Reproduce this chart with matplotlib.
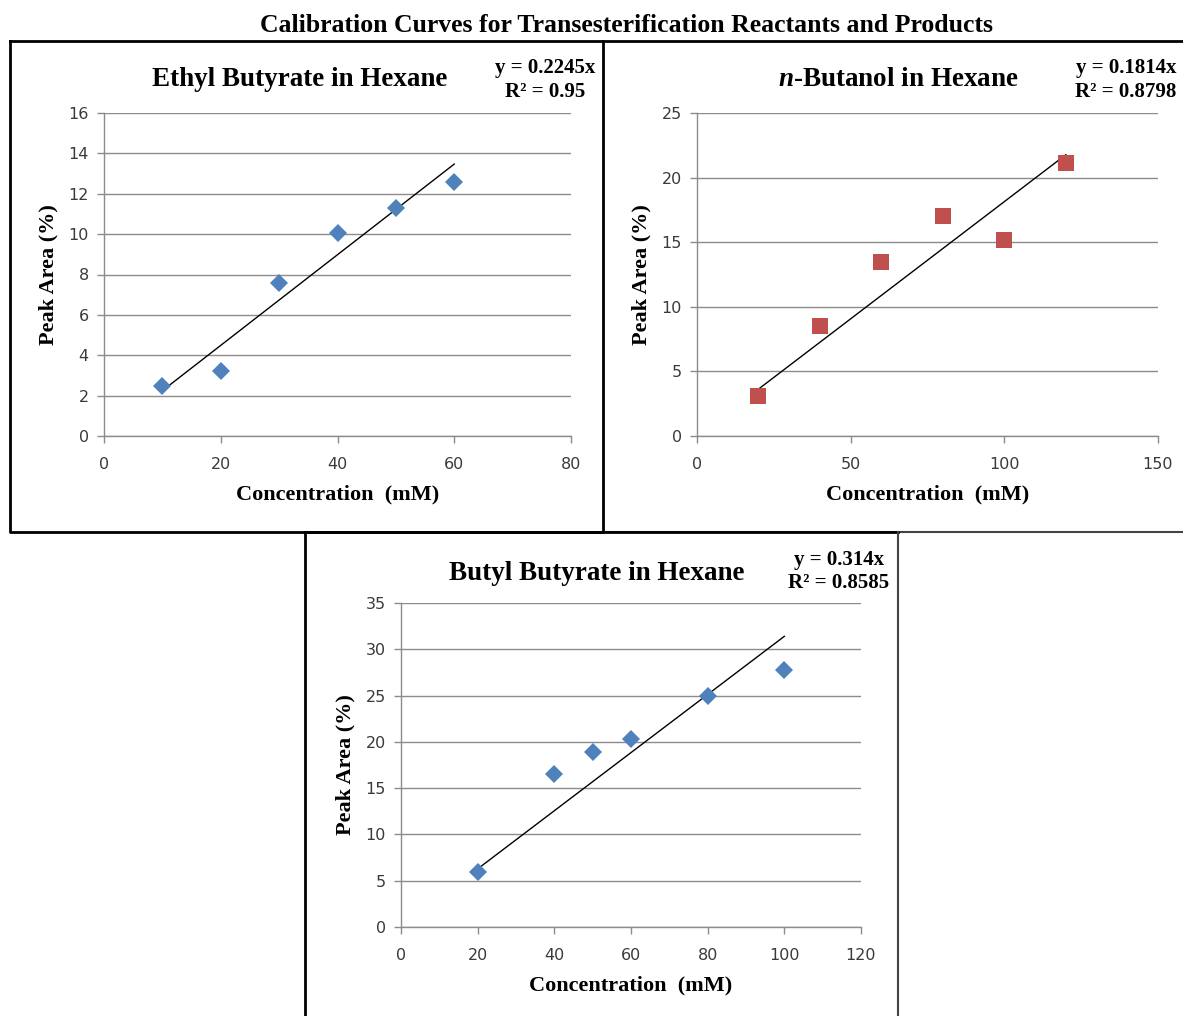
import matplotlib
matplotlib.use("Agg")
import matplotlib.pyplot as plt
from matplotlib.lines import Line2D
import numpy as np

W, H = 1183, 1016

# Ethyl butyrate standards
ethyl_conc = [10, 20, 30, 40, 50, 60]
ethyl_area = [2.5, 3.2, 7.6, 10.05, 11.3, 12.6]
ethyl_slope = 0.2245
ethyl_r2 = "0.95"

# n-Butanol standards
butanol_conc = [20, 40, 60, 80, 100, 120]
butanol_area = [3.1, 8.5, 13.5, 17.0, 15.2, 21.1]
butanol_slope = 0.1814
butanol_r2 = "0.8798"

# Butyl butyrate standards
butyl_conc = [20, 40, 50, 60, 80, 100]
butyl_area = [5.9, 16.5, 18.9, 20.3, 24.9, 27.8]
butyl_slope = 0.314
butyl_r2 = "0.8585"

SERIF = "Liberation Serif"
SANS = "DejaVu Sans"
BLUE = "#4F81BD"
RED = "#C0504D"
GRID = "#8C8C8C"

plt.rcParams["mathtext.fontset"] = "custom"
plt.rcParams["mathtext.it"] = "Liberation Serif:italic:bold"
plt.rcParams["mathtext.rm"] = "Liberation Serif:bold"

fig = plt.figure(figsize=(W / 100, H / 100), dpi=100)
fig.patch.set_facecolor("white")


def px_axes(left, top, right, bottom):
    return fig.add_axes([left / W, 1 - bottom / H, (right - left) / W, (bottom - top) / H])


def px_line(xs, ys, lw=2.0, color="black"):
    fig.add_artist(Line2D([x / W for x in xs], [1 - y / H for y in ys],
                          lw=lw, color=color, transform=fig.transFigure))


def fig_text(x, y, s, **kw):
    fig.text(x / W, 1 - y / H, s, **kw)


def draw_panel(ax, conc, area, slope, xmax, xstep, ymax, ystep, marker, color, msize):
    ax.set_xlim(0, xmax)
    ax.set_ylim(0, ymax)
    ax.set_xticks(np.arange(0, xmax + xstep / 2, xstep))
    ax.set_yticks(np.arange(0, ymax + ystep / 2, ystep))
    for s in ["top", "right"]:
        ax.spines[s].set_visible(False)
    for s in ["left", "bottom"]:
        ax.spines[s].set_color(GRID)
        ax.spines[s].set_linewidth(1.0)
    ax.yaxis.grid(True, color=GRID, lw=1.0)
    ax.set_axisbelow(True)
    ax.tick_params(axis="both", direction="out", length=5, width=1.0, color=GRID,
                   labelsize=11.5, labelcolor="#3A3A3A")
    ax.tick_params(axis="x", pad=10)
    ax.tick_params(axis="y", pad=6)
    for lab in ax.get_xticklabels() + ax.get_yticklabels():
        lab.set_fontfamily(SANS)
    ax.set_xlabel("Concentration  (mM)", fontfamily=SERIF, fontweight="bold",
                  fontsize=16, labelpad=9)
    ax.set_ylabel("Peak Area (%)", fontfamily=SERIF, fontweight="bold",
                  fontsize=16, labelpad=7)
    # Linear fit through the origin over the measured range
    xs = np.array([min(conc), max(conc)])
    ax.plot(xs, slope * xs, color="black", lw=1.0, zorder=2)
    ax.plot(conc, area, linestyle="none", marker=marker, color=color,
            markersize=msize, markeredgewidth=0, zorder=3, clip_on=False)
    ax.patch.set_alpha(0)


# Panel frames
px_line([10, 603, 603, 10, 10], [41, 41, 532, 532, 41], lw=2.0)
px_line([603, 1183], [41, 41], lw=2.0)
px_line([603, 1183], [532, 532], lw=1.5, color="#444444")
px_line([305, 305], [532, 1016], lw=2.0)
px_line([305, 898], [532, 532], lw=2.0)
px_line([898, 898], [532, 1016], lw=1.5, color="#444444")

fig_text(627, 25, "Calibration Curves for Transesterification Reactants and Products",
         fontfamily=SERIF, fontweight="bold", fontsize=18.5, ha="center", va="center")

EQ = dict(fontfamily=SERIF, fontweight="bold", fontsize=15, ha="center", va="center")
SUB = dict(fontfamily=SERIF, fontweight="bold", fontsize=19.5, ha="center", va="center")

# Ethyl butyrate
ax1 = px_axes(104, 113, 571, 436)
draw_panel(ax1, ethyl_conc, ethyl_area, ethyl_slope, 80, 20, 16, 2, "D", BLUE, 9.5)
fig_text(300, 79, "Ethyl Butyrate in Hexane", **SUB)
fig_text(545, 68, f"y = {ethyl_slope}x", **EQ)
fig_text(545, 92, f"R² = {ethyl_r2}", **EQ)

# n-Butanol
ax2 = px_axes(697, 113, 1158, 436)
draw_panel(ax2, butanol_conc, butanol_area, butanol_slope, 150, 50, 25, 5, "s", RED, 11.5)
fig_text(898, 79, "$\\mathit{n}$-Butanol in Hexane", **SUB)
fig_text(1126, 68, f"y = {butanol_slope}x", **EQ)
fig_text(1126, 92, f"R² = {butanol_r2}", **EQ)

# Butyl butyrate
ax3 = px_axes(401, 603, 861, 927)
draw_panel(ax3, butyl_conc, butyl_area, butyl_slope, 120, 20, 35, 5, "D", BLUE, 9.5)
fig_text(597, 573, "Butyl Butyrate in Hexane", **SUB)
fig_text(839, 560, f"y = {butyl_slope}x", **EQ)
fig_text(839, 583, f"R² = {butyl_r2}", **EQ)

fig.savefig("out.png", dpi=100)
